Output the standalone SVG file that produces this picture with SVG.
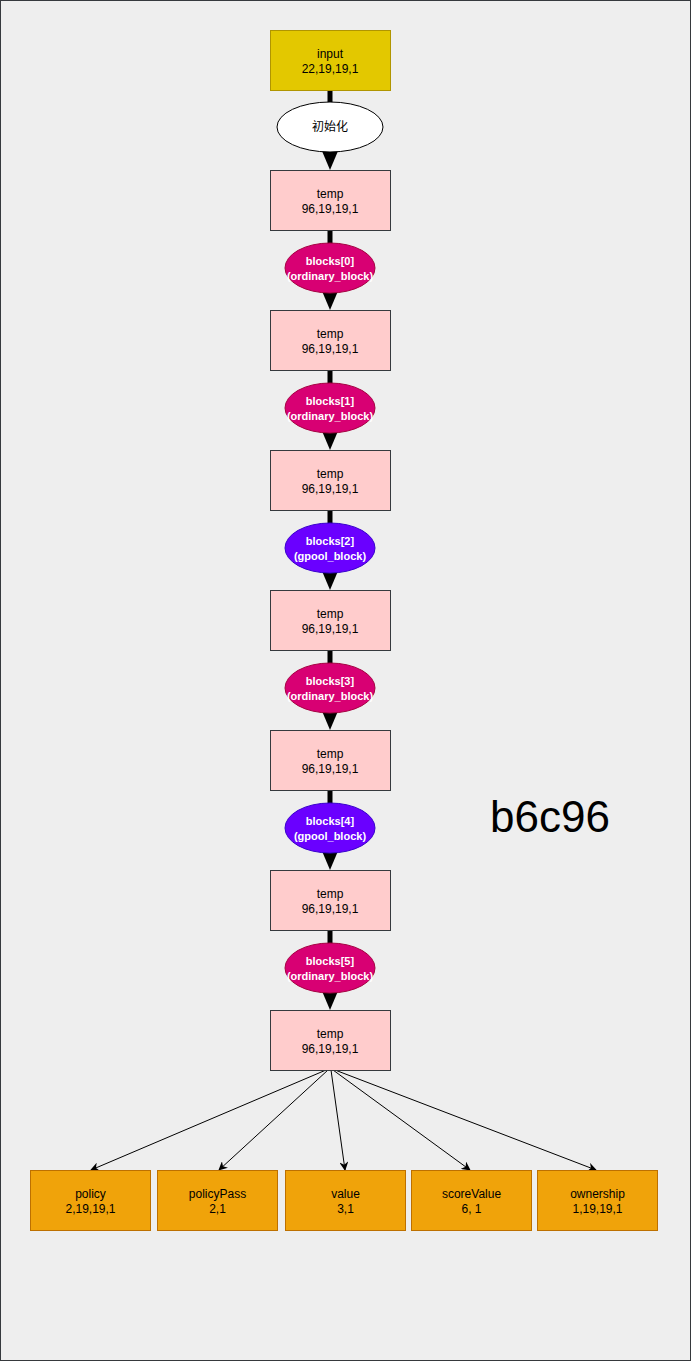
<svg xmlns="http://www.w3.org/2000/svg" width="692" height="1362" viewBox="0 0 692 1362">
<style>
.t{font-family:"Liberation Sans",Arial,sans-serif;font-size:12px;text-anchor:middle;fill:#000}
.w{font-family:"Liberation Sans",Arial,sans-serif;font-size:11px;font-weight:bold;text-anchor:middle;fill:#fff}
.cjk{font-family:"Liberation Sans","Noto Sans CJK SC",sans-serif;font-size:12px;text-anchor:middle;fill:#000}
.temp{fill:#ffcccc;stroke:#36393d;stroke-width:1}
.out{fill:#f0a30a;stroke:#bd7000;stroke-width:1}
.mag{fill:#d80073;stroke:#a50040;stroke-width:1}
.pur{fill:#6a00ff;stroke:#3700cc;stroke-width:1}
.thick{stroke:#000;stroke-width:5;fill:none}
.thin{stroke:#000;stroke-width:1;fill:none;marker-end:url(#ah)}
</style>
<defs>
<marker id="ah" viewBox="0 0 10 10" refX="9" refY="5" markerWidth="9" markerHeight="9" orient="auto" markerUnits="userSpaceOnUse">
<path d="M0,0 L10,5 L0,10 L3,5 Z" fill="#000"/>
</marker>
</defs>
<rect x="0.5" y="0.5" width="690" height="1360" fill="#eeeeee" stroke="#36393d" stroke-width="1"/>
<g id="connectors">
<line class="thick" x1="330" y1="90" x2="330" y2="152"/>
<polygon points="322,151 338,151 330,170" fill="#000"/>
<line class="thick" x1="330" y1="230" x2="330" y2="292"/>
<polygon points="322,291 338,291 330,310" fill="#000"/>
<line class="thick" x1="330" y1="370" x2="330" y2="432"/>
<polygon points="322,431 338,431 330,450" fill="#000"/>
<line class="thick" x1="330" y1="510" x2="330" y2="572"/>
<polygon points="322,571 338,571 330,590" fill="#000"/>
<line class="thick" x1="330" y1="650" x2="330" y2="712"/>
<polygon points="322,711 338,711 330,730" fill="#000"/>
<line class="thick" x1="330" y1="790" x2="330" y2="852"/>
<polygon points="322,851 338,851 330,870" fill="#000"/>
<line class="thick" x1="330" y1="930" x2="330" y2="992"/>
<polygon points="322,991 338,991 330,1010" fill="#000"/>
<line class="thin" x1="326" y1="1070" x2="91" y2="1170"/>
<line class="thin" x1="328" y1="1070" x2="219" y2="1170"/>
<line class="thin" x1="331" y1="1070" x2="345" y2="1170"/>
<line class="thin" x1="333" y1="1070" x2="470" y2="1170"/>
<line class="thin" x1="335" y1="1070" x2="596" y2="1170"/>
</g>
<g id="input"><rect x="270.5" y="30.5" width="120" height="60" fill="#e3c800" stroke="#b09500"/><text class="t" x="330" y="58">input</text><text class="t" x="330" y="73">22,19,19,1</text></g>
<g id="init"><ellipse cx="330" cy="127" rx="53" ry="25" fill="#ffffff" stroke="#000"/><text class="cjk" x="330" y="131">初始化</text></g>
<g id="temp0"><rect class="temp" x="270.5" y="170.5" width="120" height="60"/><text class="t" x="330" y="198">temp</text><text class="t" x="330" y="213">96,19,19,1</text></g>
<g id="block0"><ellipse class="mag" cx="330" cy="268" rx="45" ry="25"/><text class="w" x="330" y="265">blocks[0]</text><text class="w" x="330" y="280">(ordinary_block)</text></g>
<g id="temp1"><rect class="temp" x="270.5" y="310.5" width="120" height="60"/><text class="t" x="330" y="338">temp</text><text class="t" x="330" y="353">96,19,19,1</text></g>
<g id="block1"><ellipse class="mag" cx="330" cy="408" rx="45" ry="25"/><text class="w" x="330" y="405">blocks[1]</text><text class="w" x="330" y="420">(ordinary_block)</text></g>
<g id="temp2"><rect class="temp" x="270.5" y="450.5" width="120" height="60"/><text class="t" x="330" y="478">temp</text><text class="t" x="330" y="493">96,19,19,1</text></g>
<g id="block2"><ellipse class="pur" cx="330" cy="548" rx="45" ry="25"/><text class="w" x="330" y="545">blocks[2]</text><text class="w" x="330" y="560">(gpool_block)</text></g>
<g id="temp3"><rect class="temp" x="270.5" y="590.5" width="120" height="60"/><text class="t" x="330" y="618">temp</text><text class="t" x="330" y="633">96,19,19,1</text></g>
<g id="block3"><ellipse class="mag" cx="330" cy="688" rx="45" ry="25"/><text class="w" x="330" y="685">blocks[3]</text><text class="w" x="330" y="700">(ordinary_block)</text></g>
<g id="temp4"><rect class="temp" x="270.5" y="730.5" width="120" height="60"/><text class="t" x="330" y="758">temp</text><text class="t" x="330" y="773">96,19,19,1</text></g>
<g id="block4"><ellipse class="pur" cx="330" cy="828" rx="45" ry="25"/><text class="w" x="330" y="825">blocks[4]</text><text class="w" x="330" y="840">(gpool_block)</text></g>
<g id="temp5"><rect class="temp" x="270.5" y="870.5" width="120" height="60"/><text class="t" x="330" y="898">temp</text><text class="t" x="330" y="913">96,19,19,1</text></g>
<g id="block5"><ellipse class="mag" cx="330" cy="968" rx="45" ry="25"/><text class="w" x="330" y="965">blocks[5]</text><text class="w" x="330" y="980">(ordinary_block)</text></g>
<g id="temp6"><rect class="temp" x="270.5" y="1010.5" width="120" height="60"/><text class="t" x="330" y="1038">temp</text><text class="t" x="330" y="1053">96,19,19,1</text></g>
<g id="policy"><rect class="out" x="30.5" y="1170.5" width="120" height="60"/><text class="t" x="90.5" y="1198">policy</text><text class="t" x="90.5" y="1213">2,19,19,1</text></g>
<g id="policyPass"><rect class="out" x="157.5" y="1170.5" width="120" height="60"/><text class="t" x="217.5" y="1198">policyPass</text><text class="t" x="217.5" y="1213">2,1</text></g>
<g id="value"><rect class="out" x="285.5" y="1170.5" width="120" height="60"/><text class="t" x="345.5" y="1198">value</text><text class="t" x="345.5" y="1213">3,1</text></g>
<g id="scoreValue"><rect class="out" x="411.5" y="1170.5" width="120" height="60"/><text class="t" x="471.5" y="1198">scoreValue</text><text class="t" x="471.5" y="1213">6, 1</text></g>
<g id="ownership"><rect class="out" x="537.5" y="1170.5" width="120" height="60"/><text class="t" x="597.5" y="1198">ownership</text><text class="t" x="597.5" y="1213">1,19,19,1</text></g>
<g id="title"><text x="550" y="832" font-family="'Liberation Sans',Arial,sans-serif" font-size="44" text-anchor="middle" fill="#000">b6c96</text></g>
</svg>
